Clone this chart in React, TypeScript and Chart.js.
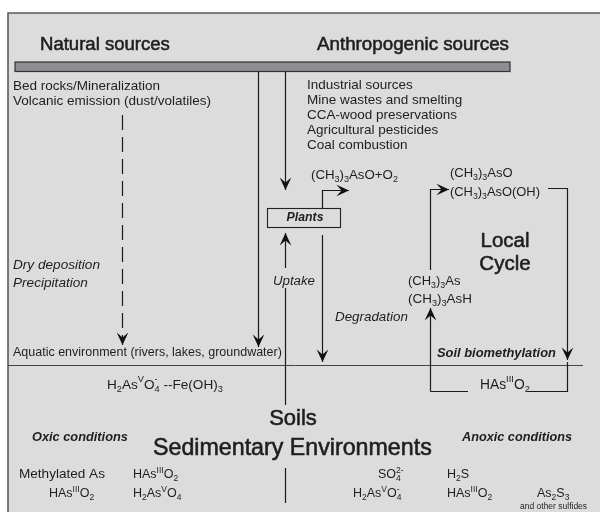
import { useEffect, useRef } from "react";
import { Chart, registerables } from "chart.js";

Chart.register(...registerables);

const FONT = '"Liberation Sans", Arial, Helvetica, sans-serif';
const BG = "#dcdcdc";
const INK = "#1e1e1e";

// ---------- texts (data) ----------
const headings = ["Natural sources", "Anthropogenic sources"];
const naturalSources = ["Bed rocks/Mineralization", "Volcanic emission (dust/volatiles)"];
const anthropogenicSources = [
  "Industrial sources",
  "Mine wastes and smelting",
  "CCA-wood preservations",
  "Agricultural pesticides",
  "Coal combustion",
];
const depositionLabels = ["Dry deposition", "Precipitation"];
const aquaticLabel = "Aquatic environment (rivers, lakes, groundwater)";
const plantLabels = ["Plants", "Uptake", "(CH_3)_3AsO+O_2"];
const cycleSpecies = ["(CH_3)_3AsO", "(CH_3)_3AsO(OH)", "(CH_3)_3As", "(CH_3)_3AsH", "HAs^{III}O_2"];
const cycleLabels = ["Local", "Cycle", "Degradation", "Soil biomethylation"];
const soilTitles = ["Soils", "Sedimentary Environments"];
const conditionLabels = ["Oxic conditions", "Anoxic conditions"];
const sorbedSpecies = "H_2As^VO~{4|-} --Fe(OH)_3";
const oxicSpecies = ["Methylated As", "HAs^{III}O_2", "HAs^{III}O_2", "H_2As^VO_4"];
const anoxicSpecies = ["SO~{4|2-}", "H_2As^VO~{4|-}", "H_2S", "HAs^{III}O_2", "As_2S_3", "and other sulfides"];

// ---------- layout ----------
type TextItem = { t: string; x: number; y: number; size: number; w?: number; style?: string; align?: "left" | "center" };

const TEXTS: TextItem[] = [
  { t: headings[0], x: 40, y: 45, size: 17, w: 130, style: "medium" },
  { t: headings[1], x: 317, y: 45, size: 17, w: 192, style: "medium" },
  ...naturalSources.map((t, i) => ({ t, x: 13, y: 86 + i * 15.5, size: 13.5 })),
  ...anthropogenicSources.map((t, i) => ({ t, x: 307, y: 85 + i * 15, size: 13.5 })),
  { t: depositionLabels[0], x: 13, y: 265, size: 13.5, style: "italic", w: 87 },
  { t: depositionLabels[1], x: 13, y: 283, size: 13.5, style: "italic", w: 75 },
  { t: aquaticLabel, x: 13, y: 353, size: 13, w: 269 },
  { t: plantLabels[0], x: 305, y: 218, size: 13, style: "bold italic", align: "center", w: 37 },
  { t: plantLabels[1], x: 273, y: 281, size: 13, style: "italic", w: 42 },
  { t: plantLabels[2], x: 311, y: 175, size: 13, w: 87 },
  { t: cycleSpecies[0], x: 450, y: 173, size: 13 },
  { t: cycleSpecies[1], x: 450, y: 192, size: 13, w: 90 },
  { t: cycleSpecies[2], x: 408, y: 281, size: 13 },
  { t: cycleSpecies[3], x: 408, y: 299, size: 13, w: 64 },
  { t: cycleSpecies[4], x: 480, y: 385, size: 12.5, w: 50 },
  { t: cycleLabels[0], x: 505, y: 241, size: 20.5, align: "center", style: "medium" },
  { t: cycleLabels[1], x: 505, y: 264, size: 20.5, align: "center", style: "medium" },
  { t: cycleLabels[2], x: 335, y: 317, size: 13, style: "italic", w: 73 },
  { t: cycleLabels[3], x: 437, y: 353, size: 13, style: "bold italic", w: 119 },
  { t: sorbedSpecies, x: 107, y: 385, size: 12.5, w: 116 },
  { t: soilTitles[0], x: 293, y: 419, size: 22, align: "center", style: "medium" },
  { t: soilTitles[1], x: 153, y: 449, size: 23, w: 279, style: "medium" },
  { t: conditionLabels[0], x: 32, y: 437, size: 12, style: "bold italic", w: 96 },
  { t: conditionLabels[1], x: 462, y: 437, size: 12, style: "bold italic", w: 110 },
  { t: oxicSpecies[0], x: 19, y: 474, size: 12.5, w: 86 },
  { t: oxicSpecies[1], x: 49, y: 494, size: 12.5 },
  { t: oxicSpecies[2], x: 133, y: 475, size: 12.5 },
  { t: oxicSpecies[3], x: 133, y: 494, size: 12.5 },
  { t: anoxicSpecies[0], x: 378, y: 475, size: 12.5 },
  { t: anoxicSpecies[1], x: 353, y: 494, size: 12.5 },
  { t: anoxicSpecies[2], x: 447, y: 475, size: 12.5 },
  { t: anoxicSpecies[3], x: 447, y: 494, size: 12.5 },
  { t: anoxicSpecies[4], x: 537, y: 494, size: 12.5 },
  { t: anoxicSpecies[5], x: 520, y: 507, size: 8.5 },
];

type Path = { pts: number[][]; arrow?: boolean; dash?: number[]; color?: string; width?: number };

const PATHS: Path[] = [
  { pts: [[122.5, 115], [122.5, 345]], dash: [15, 7], arrow: true },
  { pts: [[258.5, 72], [258.5, 347]], arrow: true },
  { pts: [[285.5, 72], [285.5, 190]], arrow: true },
  { pts: [[285.5, 268], [285.5, 233]], arrow: true },
  { pts: [[285.5, 405], [285.5, 288]] },
  { pts: [[285.5, 503], [285.5, 468]] },
  { pts: [[322.5, 208], [322.5, 190.5], [349, 190.5]], arrow: true },
  { pts: [[322.5, 235], [322.5, 362]], arrow: true },
  { pts: [[430.5, 391.5], [430.5, 308]], arrow: true },
  { pts: [[430.5, 270], [430.5, 189.5], [449, 189.5]], arrow: true },
  { pts: [[548, 188.5], [567.5, 188.5], [567.5, 360]], arrow: true },
  { pts: [[567.5, 362], [567.5, 391.5], [527, 391.5]] },
  { pts: [[430.5, 391.5], [468, 391.5]] },
  { pts: [[8, 365.5], [583, 365.5]], color: "#444", width: 1 },
];

const FRAME = { left: 8, top: 13, right: 600, bottom: 512 };
const BAR = { left: 15, top: 62, right: 510, bottom: 71.5 };
const PLANTS_BOX = { left: 267.5, top: 208.5, right: 340.5, bottom: 227.5 };

// ---------- rich text ----------
type Seg = { t: string; k: "n" | "sub" | "sup" | "stk"; t2?: string };

function parseRich(s: string): Seg[] {
  const out: Seg[] = [];
  let buf = "";
  let i = 0;
  const flush = () => {
    if (buf) {
      out.push({ t: buf, k: "n" });
      buf = "";
    }
  };
  while (i < s.length) {
    const c = s[i];
    if ((c === "_" || c === "^" || c === "~") && i + 1 < s.length) {
      flush();
      let arg: string;
      if (s[i + 1] === "{") {
        const j = s.indexOf("}", i + 2);
        arg = s.slice(i + 2, j);
        i = j + 1;
      } else {
        arg = s[i + 1];
        i += 2;
      }
      if (c === "~") {
        const [a, b] = arg.split("|");
        out.push({ t: a, k: "stk", t2: b });
      } else out.push({ t: arg, k: c === "_" ? "sub" : "sup" });
    } else {
      buf += c;
      i++;
    }
  }
  flush();
  return out;
}

function fontStr(style: string, size: number) {
  const st = style === "medium" ? "normal" : style;
  return `${st} ${size}px ${FONT}`;
}

function richWidth(ctx: CanvasRenderingContext2D, segs: Seg[], size: number, style: string) {
  let w = 0;
  for (const s of segs) {
    if (s.k === "n") {
      ctx.font = fontStr(style, size);
      w += ctx.measureText(s.t).width;
    } else {
      ctx.font = fontStr(style, size * 0.68);
      if (s.k === "stk") w += Math.max(ctx.measureText(s.t).width, ctx.measureText(s.t2 || "").width);
      else w += ctx.measureText(s.t).width;
    }
  }
  return w;
}

function drawRich(ctx: CanvasRenderingContext2D, segs: Seg[], x: number, y: number, size: number, style: string) {
  let cx = x;
  ctx.textBaseline = "middle";
  ctx.textAlign = "left";
  const medium = style === "medium";
  const put = (t: string, px: number, py: number) => {
    ctx.fillText(t, px, py);
    if (medium) {
      ctx.lineWidth = 0.55;
      ctx.strokeText(t, px, py);
    }
  };
  for (const s of segs) {
    if (s.k === "n") {
      ctx.font = fontStr(style, size);
      put(s.t, cx, y);
      cx += ctx.measureText(s.t).width;
    } else {
      const small = size * 0.68;
      ctx.font = fontStr(style, small);
      if (s.k === "sub") {
        put(s.t, cx, y + size * 0.33);
        cx += ctx.measureText(s.t).width;
      } else if (s.k === "sup") {
        put(s.t, cx, y - size * 0.38);
        cx += ctx.measureText(s.t).width;
      } else {
        put(s.t, cx, y + size * 0.33);
        put(s.t2 || "", cx, y - size * 0.38);
        cx += Math.max(ctx.measureText(s.t).width, ctx.measureText(s.t2 || "").width);
      }
    }
  }
}

function arrowHead(ctx: CanvasRenderingContext2D, tx: number, ty: number, ang: number) {
  const len = 12.5;
  const hw = 5.8;
  const back = len * 0.6;
  const cos = Math.cos(ang);
  const sin = Math.sin(ang);
  const pt = (a: number, b: number) => [tx - a * cos + b * -sin, ty - a * sin + b * cos];
  const p1 = pt(len, hw);
  const p2 = pt(back, 0);
  const p3 = pt(len, -hw);
  ctx.beginPath();
  ctx.moveTo(tx, ty);
  ctx.lineTo(p1[0], p1[1]);
  ctx.lineTo(p2[0], p2[1]);
  ctx.lineTo(p3[0], p3[1]);
  ctx.closePath();
  ctx.fill();
}

const diagramPlugin = {
  id: "diagram",
  beforeDraw(chart: any) {
    const { ctx } = chart;
    const X = (v: number) => chart.scales.x.getPixelForValue(v);
    const Y = (v: number) => chart.scales.y.getPixelForValue(v);
    ctx.save();
    ctx.fillStyle = "#ffffff";
    ctx.fillRect(0, 0, chart.width, chart.height);
    ctx.fillStyle = BG;
    ctx.fillRect(X(FRAME.left), Y(FRAME.top), X(FRAME.right) - X(FRAME.left), Y(FRAME.bottom) - Y(FRAME.top));
    ctx.strokeStyle = "#5a5a5a";
    ctx.lineWidth = 1.6;
    ctx.beginPath();
    ctx.moveTo(X(FRAME.left), Y(FRAME.bottom));
    ctx.lineTo(X(FRAME.left), Y(FRAME.top));
    ctx.lineTo(X(FRAME.right), Y(FRAME.top));
    ctx.stroke();
    ctx.fillStyle = "#8d8d92";
    ctx.fillRect(X(BAR.left), Y(BAR.top), X(BAR.right) - X(BAR.left), Y(BAR.bottom) - Y(BAR.top));
    ctx.strokeStyle = "#333";
    ctx.lineWidth = 1.2;
    ctx.strokeRect(X(BAR.left), Y(BAR.top), X(BAR.right) - X(BAR.left), Y(BAR.bottom) - Y(BAR.top));
    ctx.restore();
  },
  afterDatasetsDraw(chart: any) {
    const { ctx } = chart;
    const X = (v: number) => chart.scales.x.getPixelForValue(v);
    const Y = (v: number) => chart.scales.y.getPixelForValue(v);
    ctx.save();
    ctx.fillStyle = "#111";
    for (const p of PATHS) {
      if (!p.arrow) continue;
      const n = p.pts.length;
      const [x1, y1] = p.pts[n - 2];
      const [x2, y2] = p.pts[n - 1];
      const ang = Math.atan2(Y(y2) - Y(y1), X(x2) - X(x1));
      arrowHead(ctx, X(x2), Y(y2), ang);
    }
    ctx.strokeStyle = "#222";
    ctx.lineWidth = 1.1;
    ctx.strokeRect(
      X(PLANTS_BOX.left),
      Y(PLANTS_BOX.top),
      X(PLANTS_BOX.right) - X(PLANTS_BOX.left),
      Y(PLANTS_BOX.bottom) - Y(PLANTS_BOX.top)
    );
    ctx.fillStyle = INK;
    ctx.strokeStyle = INK;
    for (const item of TEXTS) {
      const style = item.style || "normal";
      const segs = parseRich(item.t);
      let size = item.size;
      if (item.w) {
        const w0 = richWidth(ctx, segs, size, style);
        size = (size * item.w) / w0;
      }
      const w = richWidth(ctx, segs, size, style);
      let x = X(item.x);
      if (item.align === "center") x -= w / 2;
      drawRich(ctx, segs, x, Y(item.y), size, style);
    }
    ctx.restore();
  },
};

export default function App() {
  const ref = useRef<HTMLCanvasElement | null>(null);
  useEffect(() => {
    if (!ref.current) return;
    const chart = new Chart(ref.current, {
      type: "scatter",
      data: {
        datasets: PATHS.map((p) => ({
          data: p.pts.map(([x, y]) => ({ x, y })),
          showLine: true,
          borderColor: p.color || "#1a1a1a",
          borderWidth: p.width || 1.2,
          borderDash: p.dash || [],
          pointRadius: 0,
          pointHoverRadius: 0,
          fill: false,
          tension: 0,
        })),
      },
      options: {
        animation: false,
        responsive: false,
        devicePixelRatio: 1,
        events: [],
        layout: { padding: 0 },
        plugins: { legend: { display: false }, tooltip: { enabled: false } },
        scales: {
          x: { type: "linear", min: 0, max: 600, display: false },
          y: { type: "linear", min: 0, max: 512, reverse: true, display: false },
        },
      },
      plugins: [diagramPlugin],
    } as any);
    return () => chart.destroy();
  }, []);
  return (
    <div style={{ position: "absolute", left: 0, top: 0, width: 600, height: 512 }}>
      <canvas ref={ref} width={600} height={512} style={{ display: "block" }} />
    </div>
  );
}
